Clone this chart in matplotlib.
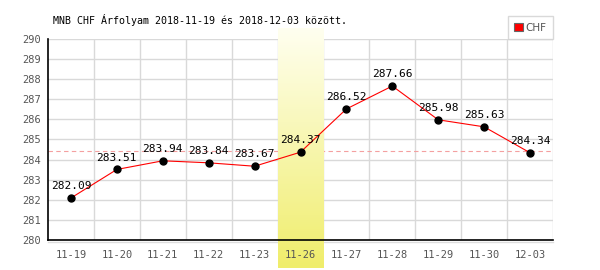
import matplotlib.pyplot as plt
import numpy as np

dates = ["11-19", "11-20", "11-21", "11-22", "11-23", "11-26",
         "11-27", "11-28", "11-29", "11-30", "12-03"]
rates = [282.09, 283.51, 283.94, 283.84, 283.67, 284.37,
         286.52, 287.66, 285.98, 285.63, 284.34]
ref_rate = 284.45
highlight = "11-26"
title = "MNB CHF Árfolyam 2018-11-19 és 2018-12-03 között."

plt.rcParams['font.family'] = 'DejaVu Sans Mono'

fig = plt.figure(figsize=(6, 2.7), dpi=100)
ax = fig.add_axes([48 / 600, 30 / 270, 505 / 600, 201 / 270])
ax.set_facecolor('none')

x = np.arange(len(dates))
yt = np.arange(280, 291, 1)

ax.set_xticks(x)
ax.set_xticklabels(dates)
ax.set_yticks(yt)
ax.tick_params(which='both', length=0, labelsize=7.5, labelcolor='#555555')
ax.tick_params(axis='x', pad=7)
ax.tick_params(axis='y', pad=5)
for s in ['top', 'right']:
    ax.spines[s].set_visible(False)
for s in ['left', 'bottom']:
    ax.spines[s].set_color('black')
    ax.spines[s].set_linewidth(1.2)
    ax.spines[s].set_zorder(6)

# grid drawn by hand so the highlight band can sit on top of it
for v in x + 0.5:
    ax.axvline(v, color='#d9d9d9', lw=1, zorder=0.5)
for v in yt:
    ax.axhline(v, color='#d9d9d9', lw=1, zorder=0.5)
ax.axhline(279.9, color='#dddddd', lw=1, zorder=0.5, clip_on=False)

ax.axhline(ref_rate, color='#f4a0a0', lw=0.8, ls=(0, (4, 3)), zorder=0.8)

# yellow gradient band for the highlighted day
hi = dates.index(highlight)
grad = np.linspace(0, 1, 100)[:, None]
top = np.array([1.0, 1.0, 0.94])
bot = np.array([0.94, 0.93, 0.42])
img = top + grad[..., None] * (bot - top)
ax.imshow(img, extent=(hi - 0.5, hi + 0.5, 278.6, 290.5), aspect='auto',
          origin='upper', clip_on=False, zorder=1)
ax.set_xlim(-0.5, len(dates) - 0.5)
ax.set_ylim(280, 290)

ax.plot(x, rates, color='red', lw=0.8, zorder=3, label='CHF')
ax.plot(x, rates, 'o', color='black', ms=5, zorder=4)

for xi, r in zip(x, rates):
    ax.annotate(f"{r:.2f}", (xi, r), textcoords="offset points",
                xytext=(0, 5), ha='center', va='bottom', fontsize=8, zorder=5)

fig.text(53 / 600, 1 - 20 / 270, title, fontsize=7.2, va='center', ha='left')

h = plt.Rectangle((0, 0), 1, 1, facecolor='red', edgecolor='#666666', lw=0.8)
leg = ax.legend([h], ['CHF'], loc='lower right', bbox_to_anchor=(1, 1),
                borderaxespad=0, fancybox=False, fontsize=7.5,
                handlelength=0.8, handleheight=0.8, handletextpad=0.3,
                borderpad=0.6)
leg.get_frame().set_edgecolor('#d0d0d0')
leg.get_frame().set_linewidth(1)
for t in leg.get_texts():
    t.set_color('#555555')
    t.set_family('DejaVu Sans')

fig.savefig("out.png", dpi=100)
